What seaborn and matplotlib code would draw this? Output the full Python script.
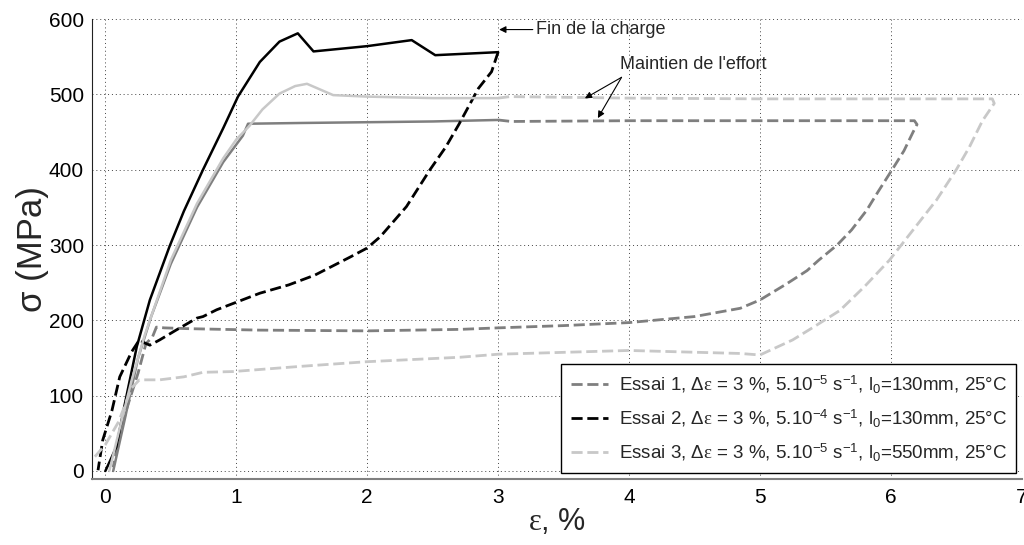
import matplotlib
matplotlib.use("Agg")
import matplotlib.pyplot as plt
from matplotlib.lines import Line2D
import seaborn as sns
import numpy as np

sns.set_style("white")
plt.rcParams['font.family'] = ['Liberation Sans', 'DejaVu Sans']
plt.rcParams['mathtext.fontset'] = 'custom'
plt.rcParams['mathtext.rm'] = 'Liberation Sans'
plt.rcParams['mathtext.sf'] = 'Liberation Sans'
plt.rcParams['mathtext.it'] = 'Liberation Serif'
plt.rcParams['mathtext.bf'] = 'Liberation Sans:bold'

# Essai 1 : charge (trait plein) puis maintien + decharge (tirets)
e1_charge_eps = [0.06, 0.15, 0.25, 0.35, 0.5, 0.7, 0.9, 1.05, 1.09, 1.5, 2.0, 2.5, 3.0]
e1_charge_sig = [0, 70, 150, 205, 275, 350, 410, 445, 461, 462, 463, 464, 466]
e1_dech_eps = [3.0, 3.1, 4.0, 5.0, 6.18, 6.2, 6.17, 6.1, 6.01, 5.9, 5.815, 5.7, 5.59,
               5.45, 5.36, 5.2, 5.0, 4.85, 4.5, 4.0, 3.5, 3.0, 2.71, 2.0, 1.18, 0.62,
               0.45, 0.39, 0.36, 0.31, 0.25, 0.16, 0.1, 0.06]
e1_dech_sig = [466, 464, 465, 465, 465, 460, 450, 425, 400, 370, 346, 320, 300,
               280, 266, 248, 227, 216, 205, 197, 193, 190, 188, 186, 187, 189,
               190, 191, 178, 169, 130, 81, 40, 5]

# Essai 2
e2_charge_eps = [0.0, 0.04, 0.084, 0.15, 0.24, 0.34, 0.49, 0.6, 0.746, 0.9, 1.013, 1.18,
                 1.33, 1.47, 1.59, 2.0, 2.34, 2.52, 3.0]
e2_charge_sig = [0, 15, 32, 90, 165, 227, 298, 345, 400, 455, 497, 543,
                 570, 581, 557, 564, 572, 552, 556]
e2_dech_eps = [3.0, 2.95, 2.85, 2.7, 2.6, 2.48, 2.3, 2.1, 2.0, 1.87, 1.6, 1.4, 1.18,
               1.0, 0.85, 0.746, 0.7, 0.54, 0.415, 0.34, 0.3, 0.26, 0.2, 0.11, 0.05,
               -0.02, -0.056]
e2_dech_sig = [556, 530, 508, 460, 430, 400, 351, 311, 296, 284, 260, 247, 236,
               224, 214, 205, 203, 187, 174, 167, 170, 174, 158, 125, 80,
               41, 1]

# Essai 3
e3_charge_eps = [0.03, 0.1, 0.2, 0.3, 0.5, 0.7, 0.9, 1.0, 1.1, 1.2, 1.33, 1.45, 1.54,
                 1.74, 2.0, 2.5, 3.0]
e3_charge_sig = [0, 50, 120, 180, 280, 355, 415, 440, 458, 480, 501, 511, 514,
                 499, 497, 495, 495]
e3_dech_eps = [3.0, 3.09, 4.0, 5.0, 6.0, 6.775, 6.79, 6.7, 6.6, 6.5, 6.35, 6.17, 5.99,
               5.8, 5.61, 5.4, 5.25, 5.1, 5.0, 4.85, 4.0, 3.0, 2.71, 1.99, 1.5, 0.975,
               0.746, 0.6, 0.415, 0.26, 0.2, 0.1, 0.0, -0.08]
e3_dech_sig = [495, 497, 495, 494, 494, 494, 488, 465, 430, 400, 360, 320, 280,
               245, 213, 190, 174, 162, 154, 156, 160, 155, 151, 145, 139, 132,
               131, 125, 121, 121, 110, 65, 35, 19]

couleurs = ['#7f7f7f', '#000000', '#c8c8c8']
labels = [
    r"Essai 1, $\Delta\varepsilon$ = 3 %, 5.10$^{-5}$ s$^{-1}$, l$_0$=130mm, 25°C",
    r"Essai 2, $\Delta\varepsilon$ = 3 %, 5.10$^{-4}$ s$^{-1}$, l$_0$=130mm, 25°C",
    r"Essai 3, $\Delta\varepsilon$ = 3 %, 5.10$^{-5}$ s$^{-1}$, l$_0$=550mm, 25°C",
]

fig = plt.figure(figsize=(10.24, 5.45), dpi=100)
ax = fig.add_axes([0.0901, 0.1206, 0.9077, 0.8445])

essais = [
    (e1_charge_eps, e1_charge_sig, e1_dech_eps, e1_dech_sig),
    (e2_charge_eps, e2_charge_sig, e2_dech_eps, e2_dech_sig),
    (e3_charge_eps, e3_charge_sig, e3_dech_eps, e3_dech_sig),
]
tirets = (0, (4, 1.7))
for (ce, cs, de, ds), c in zip(essais, couleurs):
    sns.lineplot(x=ce, y=cs, ax=ax, color=c, lw=1.8, sort=False, estimator=None)
    sns.lineplot(x=de, y=ds, ax=ax, color=c, lw=2.0, linestyle=tirets, sort=False, estimator=None)

ax.set_xlim(-0.1, 7)
ax.set_ylim(-11, 600)
ax.set_xticks(range(0, 8))
ax.set_yticks(range(0, 601, 100))
ax.grid(True, color='#444444', linestyle=(0, (1, 3)), linewidth=0.7)
ax.tick_params(direction='in', length=5, labelsize=15, pad=6, colors='black')
for s in ['top', 'right']:
    ax.spines[s].set_visible(False)
ax.spines['left'].set_color('#222222')
ax.spines['bottom'].set_color('#808080')
ax.spines['bottom'].set_linewidth(1.5)

ax.set_xlabel(r"$\varepsilon$, %", fontsize=22, labelpad=0)
ax.set_ylabel("σ (MPa)", fontsize=25, labelpad=0)

# annotations
fleche = dict(arrowstyle='-|>', color='black', lw=0.8, mutation_scale=10, shrinkA=0, shrinkB=0)
ax.annotate("Fin de la charge", xy=(3.008, 586), xytext=(3.29, 586), fontsize=13,
            va='center', ha='left', arrowprops=fleche)
ax.text(3.93, 539, "Maintien de l'effort", fontsize=13, va='center', ha='left')
ax.annotate("", xy=(3.663, 494.7), xytext=(3.943, 522.6), arrowprops=fleche)
ax.annotate("", xy=(3.762, 468.5), xytext=(3.943, 522.6), arrowprops=fleche)

handles = [Line2D([], [], color=c, lw=2.0, linestyle=tirets) for c in couleurs]
leg = ax.legend(handles, labels, loc='lower right', bbox_to_anchor=(0.994, 0.014),
                borderaxespad=0, fontsize=13.5, fancybox=False, framealpha=1,
                edgecolor='black', handlelength=2.0, handletextpad=0.55,
                labelspacing=0.65, borderpad=0.5)
leg.get_frame().set_linewidth(1.0)

fig.savefig("out.png", dpi=100)
